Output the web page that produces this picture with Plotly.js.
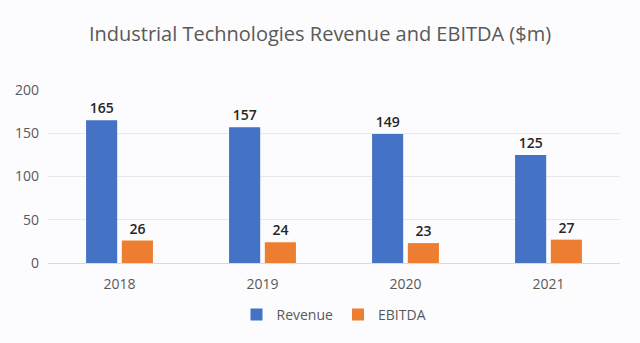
<!DOCTYPE html>
<html><head><meta charset="utf-8">
<script src="https://cdn.plot.ly/plotly-3.0.1.min.js"></script>
<style>html,body{margin:0;padding:0;background:#fcfcfe;}#c{width:640px;height:343px;}</style>
</head><body><div id="c"></div>
<script>
const years = ['2018','2019','2020','2021'];
const revenue = [165,157,149,125];
const ebitda = [26,24,23,27];
const yTicks = [0,50,100,150,200];

const lblFont = {family:'Open Sans, sans-serif', size:14, color:'#262626', weight:600};
const data = [
 {type:'bar', name:'Revenue', x:years, y:revenue, marker:{color:'#4472C4'},
  text:revenue.map(String), textposition:'outside', textfont:lblFont, cliponaxis:false},
 {type:'bar', name:'EBITDA', x:years, y:ebitda, marker:{color:'#ED7D31'},
  text:ebitda.map(String), textposition:'outside', textfont:lblFont, cliponaxis:false}
];
const layout = {
 width:640, height:343,
 paper_bgcolor:'#fcfcfe', plot_bgcolor:'#fcfcfe',
 margin:{l:48, r:20, t:90, b:78},
 title:{text:'Industrial Technologies Revenue and EBITDA ($m)', x:0.5, xanchor:'center', y:0.9, yanchor:'middle',
  font:{family:'Open Sans, sans-serif', size:20, color:'#595959'}},
 barmode:'group', bargap:0.5, bargroupgap:0.13,
 xaxis:{type:'category', tickfont:{family:'Open Sans, sans-serif', size:14, color:'#595959'}, showline:true, linecolor:'#d9d9d9', ticks:'', ticklabelstandoff:8},
 yaxis:{range:[0,200], tickvals:yTicks, tickfont:{family:'Open Sans, sans-serif', size:14, color:'#595959'}, gridcolor:'#e8e8e8', zeroline:false, ticks:'', ticklabelstandoff:8},
 showlegend:true,
 legend:{orientation:'h', x:0.5, xanchor:'center', y:-0.3, yanchor:'middle', font:{family:'Open Sans, sans-serif', size:14, color:'#595959'}, itemwidth:30},
 font:{family:'Open Sans, sans-serif'}
};
Plotly.newPlot('c', data, layout, {displayModeBar:false, staticPlot:true});
</script></body></html>
